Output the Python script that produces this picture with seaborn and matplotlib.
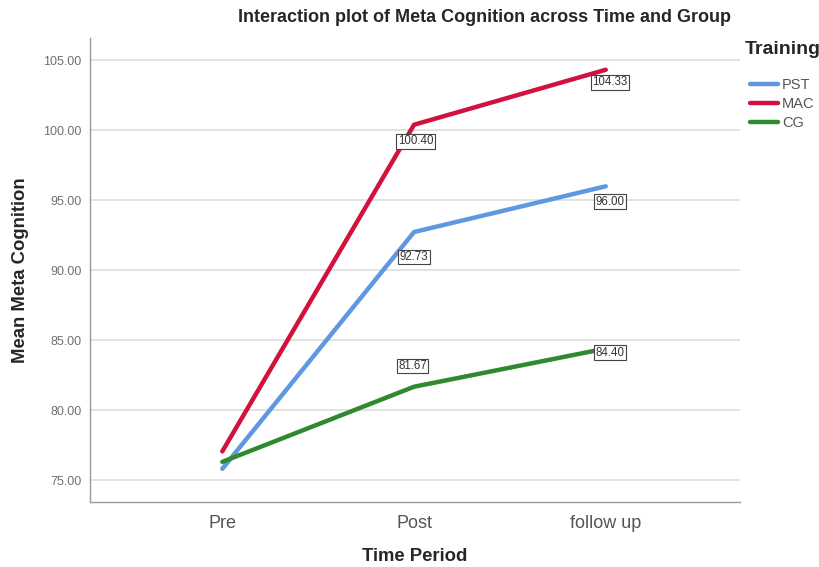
import matplotlib
matplotlib.use("Agg")
import matplotlib.pyplot as plt
import seaborn as sns
import pandas as pd

# data
time_periods = ["Pre", "Post", "follow up"]
groups = ["PST", "MAC", "CG"]
pst = [75.80, 92.73, 96.00]
mac = [77.05, 100.40, 104.33]
cg = [76.30, 81.67, 84.40]
y_ticks = [75, 80, 85, 90, 95, 100, 105]

df = pd.DataFrame({
    "Time Period": time_periods * 3,
    "Training": ["PST"] * 3 + ["MAC"] * 3 + ["CG"] * 3,
    "Mean": pst + mac + cg,
})

colors = {"PST": "#5f98e0", "MAC": "#d2123c", "CG": "#2f8a2f"}

sns.set_style("white")
plt.rcParams["font.family"] = ["Liberation Sans", "DejaVu Sans"]

fig = plt.figure(figsize=(8.2, 5.67), dpi=100)
ax = fig.add_axes([90 / 820, 1 - 502 / 567, 650 / 820, 464 / 567])

sns.lineplot(data=df, x="Time Period", y="Mean", hue="Training",
             palette=colors, linewidth=3.2, sort=False, ax=ax, legend=False)

ax.set_xlim(-0.69, 2.70)
ax.set_ylim(73.43, 106.6)
ax.set_yticks(y_ticks)
ax.set_yticklabels([f"{v:.2f}" for v in y_ticks], fontsize=9, color="#707070")
ax.tick_params(axis="x", labelsize=13, labelcolor="#555555", length=0, pad=9)
ax.tick_params(axis="y", length=0, pad=6)
ax.yaxis.grid(True, color="#dddddd", linewidth=1.2)
ax.set_axisbelow(True)
for s in ["top", "right"]:
    ax.spines[s].set_visible(False)
for s in ["left", "bottom"]:
    ax.spines[s].set_color("#999999")
    ax.spines[s].set_linewidth(1.0)

ax.set_xlabel("Time Period", fontsize=13.3, fontweight="bold", labelpad=12)
ax.set_ylabel("Mean Meta Cognition", fontsize=13.3, fontweight="bold", labelpad=10)

# value labels (Post and follow up)
offsets = {
    ("MAC", 1): (1, -12), ("MAC", 2): (3, -9),
    ("PST", 1): (0, -18), ("PST", 2): (3, -11),
    ("CG", 1): (-1, 15), ("CG", 2): (3, -3),
}
series = {"PST": pst, "MAC": mac, "CG": cg}
for g in groups:
    for i in (1, 2):
        v = series[g][i]
        ax.annotate(f"{v:.2f}", (i, v), xytext=offsets[(g, i)],
                    textcoords="offset points", ha="center", va="center",
                    fontsize=8.3, color="#333333",
                    bbox=dict(boxstyle="square,pad=0.12", fc="white",
                              ec="#444444", lw=0.8))

fig.text(485 / 820, 1 - 18 / 567,
         "Interaction plot of Meta Cognition across Time and Group",
         ha="center", va="center", fontsize=13, fontweight="bold")

fig.text(745 / 820, 1 - 50 / 567, "Training", ha="left", va="center",
         fontsize=14, fontweight="bold")
handles = [plt.Line2D([], [], color=colors[g], linewidth=3.2) for g in groups]
leg = fig.legend(handles, groups, loc="upper left",
                 bbox_to_anchor=(750 / 820, 1 - 78 / 567), frameon=False,
                 fontsize=10.5, handlelength=1.9, handletextpad=0.3,
                 labelspacing=0.35, borderaxespad=0, borderpad=0)
for t in leg.get_texts():
    t.set_color("#555555")

fig.savefig("out.png", dpi=100)
